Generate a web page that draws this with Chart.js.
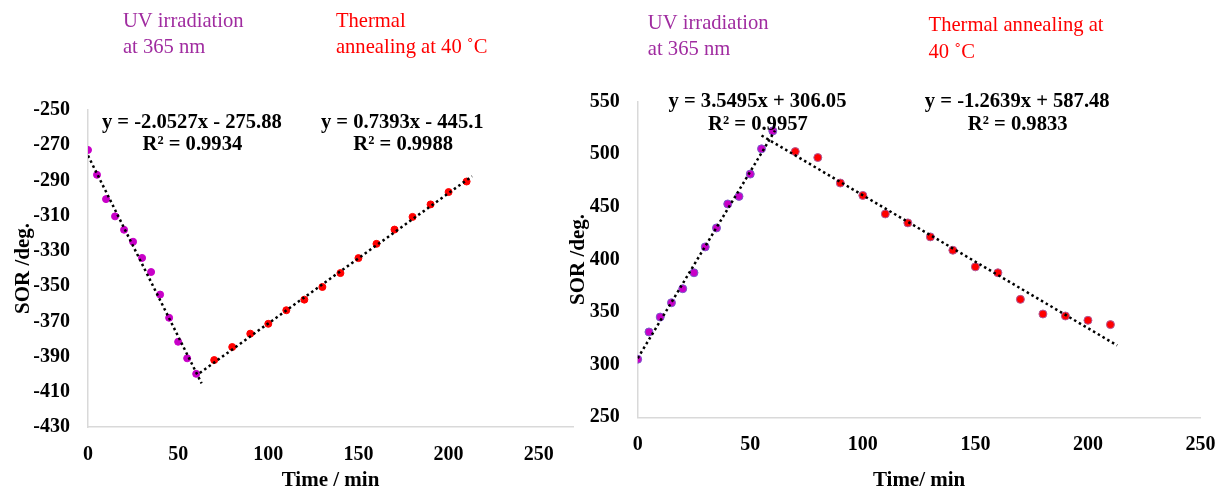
<!DOCTYPE html>
<html>
<head>
<meta charset="utf-8">
<script src="https://cdn.jsdelivr.net/npm/chart.js@4.4.0/dist/chart.umd.min.js"></script>
<style>
  html, body { margin: 0; padding: 0; background: #fff; overflow: hidden; }
  #wrapA { position: absolute; left: 0; top: 0; width: 600px; height: 488px; }
  #wrapB { position: absolute; left: 560px; top: 0; width: 671px; height: 488px; }
</style>
</head>
<body>
<div id="wrapA"><canvas id="chartA"></canvas></div>
<div id="wrapB"><canvas id="chartB"></canvas></div>
<script>
// left panel
const uvTimeA = [0, 5, 10, 15, 20, 25, 30, 35, 40, 45, 50, 55, 60];
const uvSorA = [-272.7, -286.8, -300.6, -310.4, -318, -324.8, -334, -342, -354.8, -368, -381.6, -391, -399.8];
const thTimeA = [70, 80, 90, 100, 110, 120, 130, 140, 150, 160, 170, 180, 190, 200, 210];
const thSorA = [-392, -384.6, -377, -371.4, -363.7, -357.7, -350.5, -342.6, -334.1, -326, -317.9, -310.7, -303.6, -296.6, -290.6];
const fitUvTimeA = [0, 63];
const fitUvSorA = [-275.9, -405.2];
const fitThTimeA = [62, 213];
const fitThSorA = [-399.3, -287.6];

// right panel
const uvTimeB = [0, 5, 10, 15, 20, 25, 30, 35, 40, 45, 50, 55, 60];
const uvSorB = [305.2, 331.1, 345.3, 358.9, 372.2, 387.4, 412, 430, 452.8, 460, 481.2, 505.2, 522.2];
const thTimeB = [70, 80, 90, 100, 110, 120, 130, 140, 150, 160, 170, 180, 190, 200, 210];
const thSorB = [502.6, 496.9, 472.7, 460.9, 443.3, 434.8, 421.5, 408.8, 393, 387.4, 362.1, 348.2, 346.3, 342.2, 338.1];
const fitUvTimeB = [0, 61];
const fitUvSorB = [306.1, 522.6];
const fitThTimeB = [55, 213];
const fitThSorB = [517.9, 318.3];

// labels (equations and step names), anchored in data units
const noteTextA = ['y = -2.0527x - 275.88', 'R² = 0.9934', 'y = 0.7393x - 445.1', 'R² = 0.9988',
  'UV irradiation', 'at 365 nm', 'Thermal', 'annealing at 40 ˚C'];
const noteTimeA = [57.6, 57.9, 174.3, 174.8, 19.4, 19.4, 137.5, 137.5];
const noteSorA = [-257.2, -269.9, -257.2, -269.9, -199.9, -214.8, -199.9, -214.8];

const noteTextB = ['y = 3.5495x + 306.05', 'R² = 0.9957', 'y = -1.2639x + 587.48', 'R² = 0.9833',
  'UV irradiation', 'at 365 nm', 'Thermal annealing at', '40 ˚C'];
const noteTimeB = [53.2, 53.4, 168.6, 168.8, 4.5, 4.5, 129.2, 129.2];
const noteSorB = [550, 527.9, 550, 527.9, 624.6, 599.9, 622.7, 597.1];

const SERIF = '"Liberation Serif", "Times New Roman", serif';
const PURPLE = '#a02ca0';
const AXIS = '#d9d9d9';

const pts = (xs, ys) => xs.map((x, i) => ({ x: x, y: ys[i] }));

const notesPlugin = {
  id: 'notes',
  afterDatasetsDraw(chart, args, opts) {
    const ctx = chart.ctx;
    const sx = chart.scales.x, sy = chart.scales.y;
    ctx.save();
    ctx.textBaseline = 'middle';
    opts.text.forEach((t, i) => {
      const isEq = i < 4;
      ctx.font = (isEq ? 'bold ' : '') + '20.6px ' + SERIF;
      ctx.fillStyle = isEq ? '#000' : (i < 6 ? PURPLE : '#ff0000');
      ctx.textAlign = isEq ? 'center' : 'left';
      ctx.fillText(t, sx.getPixelForValue(opts.time[i]), sy.getPixelForValue(opts.sor[i]));
    });
    ctx.restore();
  }
};

function makeChart(canvas, cfg) {
  const fitLine = (xs, ys) => ({
    data: pts(xs, ys),
    showLine: true,
    borderColor: '#000',
    borderWidth: 2.5,
    borderDash: [2.5, 3],
    pointRadius: 0,
    fill: false
  });
  return new Chart(canvas, {
    type: 'scatter',
    data: {
      datasets: [
        fitLine(cfg.fitUvX, cfg.fitUvY),
        fitLine(cfg.fitThX, cfg.fitThY),
        {
          data: pts(cfg.uvX, cfg.uvY),
          backgroundColor: '#c800c8',
          borderColor: cfg.uvBorder,
          borderWidth: 1,
          pointRadius: cfg.r
        },
        {
          data: pts(cfg.thX, cfg.thY),
          backgroundColor: '#ff0000',
          borderColor: cfg.thBorder,
          borderWidth: 1,
          pointRadius: cfg.r
        }
      ]
    },
    options: {
      responsive: true,
      maintainAspectRatio: false,
      animation: false,
      layout: { padding: cfg.pad },
      plugins: {
        legend: { display: false },
        tooltip: { enabled: false },
        notes: { text: cfg.noteText, time: cfg.noteTime, sor: cfg.noteSor }
      },
      scales: {
        x: {
          type: 'linear',
          min: 0,
          max: cfg.xMax,
          grid: { display: false, drawTicks: false },
          border: { display: true, color: AXIS, width: 1.5 },
          ticks: {
            stepSize: 50,
            includeBounds: false,
            color: '#000',
            padding: 15.5,
            font: { family: SERIF, size: 20, weight: 'bold' }
          },
          title: {
            display: true,
            text: cfg.xTitle,
            color: '#000',
            padding: { top: 0, bottom: -3 },
            font: { family: SERIF, size: 21, weight: 'bold', lineHeight: 1 }
          },
          afterFit: (s) => { s.height = cfg.xH; }
        },
        y: {
          min: cfg.yMin,
          max: cfg.yMax,
          grid: { display: false, drawTicks: false },
          border: { display: true, color: AXIS, width: 1.5 },
          ticks: {
            stepSize: cfg.yStep,
            color: '#000',
            padding: 18,
            font: { family: SERIF, size: 20, weight: 'bold' }
          },
          title: {
            display: true,
            text: 'SOR /deg.',
            color: '#000',
            padding: { top: cfg.yTitlePad, bottom: 0 },
            font: { family: SERIF, size: 21, weight: 'bold', lineHeight: 1 }
          },
          afterFit: (s) => { s.width = cfg.yW; }
        }
      }
    },
    plugins: [notesPlugin]
  });
}

makeChart(document.getElementById('chartA'), {
  uvX: uvTimeA, uvY: uvSorA, thX: thTimeA, thY: thSorA,
  fitUvX: fitUvTimeA, fitUvY: fitUvSorA, fitThX: fitThTimeA, fitThY: fitThSorA,
  noteText: noteTextA, noteTime: noteTimeA, noteSor: noteSorA,
  uvBorder: '#c800c8', thBorder: '#ff0000', r: 3.5,
  xMax: 269, yMin: -430, yMax: -250, yStep: 20,
  xTitle: 'Time / min',
  pad: { left: 0, right: 27, top: 110, bottom: 0 },
  xH: 61, yW: 88, yTitlePad: 13.5
});

makeChart(document.getElementById('chartB'), {
  uvX: uvTimeB, uvY: uvSorB, thX: thTimeB, thY: thSorB,
  fitUvX: fitUvTimeB, fitUvY: fitUvSorB, fitThX: fitThTimeB, fitThY: fitThSorB,
  noteText: noteTextB, noteTime: noteTimeB, noteSor: noteSorB,
  uvBorder: '#7a5cc8', thBorder: '#b05a9a', r: 4,
  xMax: 250, yMin: 250, yMax: 550, yStep: 50,
  xTitle: 'Time/ min',
  pad: { left: 0, right: 16, top: 101.7, bottom: 0 },
  xH: 70.7, yW: 77.7, yTitlePad: 8.5
});
</script>
</body>
</html>
